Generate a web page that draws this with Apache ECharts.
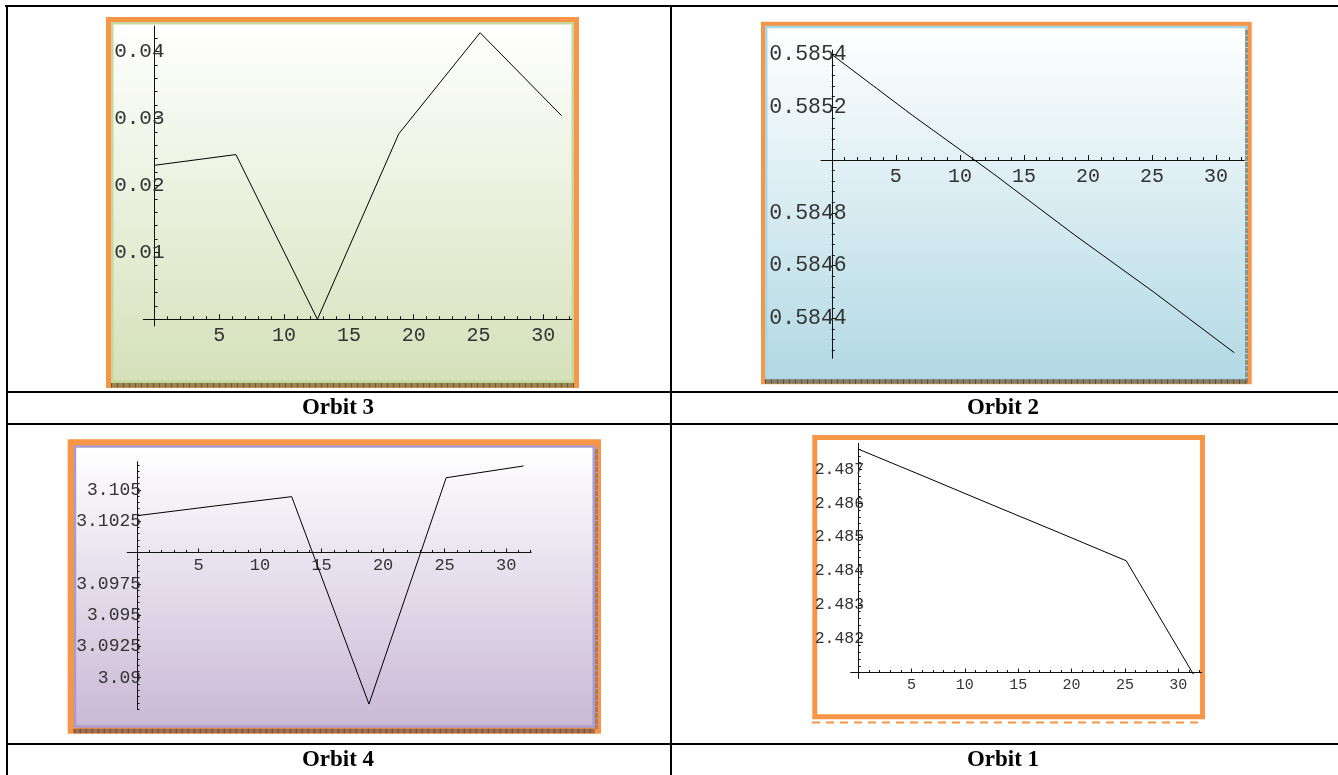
<!DOCTYPE html>
<html>
<head>
<meta charset="utf-8">
<title>Orbits</title>
<script src="https://cdn.jsdelivr.net/npm/echarts@6/dist/echarts.min.js"></script>
<style>
  html, body { margin: 0; padding: 0; background: #fff; }
  #chart { width: 1338px; height: 775px; }
</style>
</head>
<body>
<div id="chart"></div>
<script>
// samples are taken at multiples of 2*pi
const orbitX = [0, 6.28, 12.57, 18.85, 25.13, 31.42]

const orbit3Y = [0.0230, 0.0246, 0.0000, 0.0277, 0.0428, 0.0304]
const orbit2Y = [0.58540, 0.58517, 0.58495, 0.58472, 0.58450, 0.58427]
const orbit4Y = [3.10294, 3.10371, 3.10446, 3.08790, 3.10597, 3.10691]
const orbit1Y = [2.48760, 2.48678, 2.48595, 2.48513, 2.48430, 2.48095]

const xTicks = [5, 10, 15, 20, 25, 30]
const orbit3Ticks = [0.01, 0.02, 0.03, 0.04]
const orbit2Ticks = [0.5844, 0.5846, 0.5848, 0.5852, 0.5854]
const orbit4Ticks = [3.09, 3.0925, 3.095, 3.0975, 3.1025, 3.105]
const orbit1Ticks = [2.482, 2.483, 2.484, 2.485, 2.486, 2.487]

const captions = ['Orbit 3', 'Orbit 2', 'Orbit 4', 'Orbit 1']

const ORANGE = '#f79646'
const MONO = '"Liberation Mono", "DejaVu Sans Mono", monospace'

// base = value where the x axis crosses the y axis (Mathematica style)
const panels = [
  { y: orbit3Y, ticks: orbit3Ticks, base: 0, minorStep: 0.002,
    grid: [143.3, 26, 428.4, 300], xRange: [-0.87, 32.2], yRange: [-0.001, 0.0438],
    font: [20, 21], margin: [6, -10], tick: [5, 3] },
  { y: orbit2Y, ticks: orbit2Ticks, base: 0.585, minorStep: 0.00004,
    grid: [821, 50, 423.3, 308.3], xRange: [-0.84, 32.2], yRange: [0.584249, 0.585417],
    font: [20, 21.5], margin: [7, -15], tick: [5, 3] },
  { y: orbit4Y, ticks: orbit4Ticks, base: 3.1, minorStep: 0.0005,
    grid: [127.2, 461.7, 403.9, 247.6], xRange: [-0.8, 32.03], yRange: [3.08748, 3.10725],
    font: [17, 18], margin: [5, -4], tick: [4, 2.5] },
  { y: orbit1Y, ticks: orbit1Ticks, base: 2.481, minorStep: 0.0002,
    grid: [850.7, 443.3, 351, 235], xRange: [-0.7, 32.2], yRange: [2.48083, 2.48777],
    font: [15, 16.5], margin: [5, -6], tick: [4, 2.5] }
]

const frames = [
  { box: [106, 17, 473, 371], edge: 5, inner: '#c2d89e', top: '#ffffff', bottom: '#d5e1ba', strip: '#9c8452', shade: null },
  { box: [761, 21.7, 490.7, 362.6], edge: 4, inner: '#a7d7e7', top: '#ffffff', bottom: '#b2d9e4', strip: '#857d66', shade: [1245, 29, 3, 352] },
  { box: [67.7, 439.3, 533.3, 294.5], edge: 6, inner: '#a99ccd', top: '#ffffff', bottom: '#c9b9d6', strip: '#a06d55', shade: [595, 448, 3, 281] }
]

function rel(v, base) {
  return +(v - base).toFixed(7)
}

function minorValues(lo, hi, step) {
  const out = []
  for (let k = Math.ceil(lo / step); k * step <= hi; k++) out.push(+(k * step).toFixed(7))
  return out
}

const grids = []
const xAxes = []
const yAxes = []
const series = []

panels.forEach(function(p, i) {
  grids.push({
    left: p.grid[0], top: p.grid[1], width: p.grid[2], height: p.grid[3],
    containLabel: false, outerBoundsMode: 'none', show: false
  })
  const lo = rel(p.yRange[0], p.base)
  const hi = rel(p.yRange[1], p.base)
  // axes cross at (0, base): shift them in from the grid edges
  const xOffset = -(0 - lo) / (hi - lo) * p.grid[3]
  const yOffset = -(0 - p.xRange[0]) / (p.xRange[1] - p.xRange[0]) * p.grid[2]
  const lineStyle = { color: '#111', width: 1 }
  const hidden = { color: '#111', opacity: 0 }
  const yMajor = p.ticks.map(function(t) { return rel(t, p.base) })

  xAxes.push({
    gridIndex: i, type: 'value', position: 'bottom', offset: xOffset, min: p.xRange[0], max: p.xRange[1], z: 5,
    axisLine: { show: true, onZero: false, lineStyle: lineStyle },
    axisTick: { show: true, inside: true, length: p.tick[0], customValues: xTicks, lineStyle: lineStyle },
    axisLabel: { show: true, customValues: xTicks, margin: p.margin[0], fontFamily: MONO, fontSize: p.font[0], color: '#333' },
    splitLine: { show: false }
  })
  xAxes.push({
    gridIndex: i, type: 'value', position: 'bottom', offset: xOffset, min: p.xRange[0], max: p.xRange[1], z: 5,
    axisLine: { show: true, onZero: false, lineStyle: hidden },
    axisTick: { show: true, inside: true, length: p.tick[1], customValues: minorValues(1, p.xRange[1], 1), lineStyle: lineStyle },
    axisLabel: { show: false },
    splitLine: { show: false }
  })
  yAxes.push({
    gridIndex: i, type: 'value', position: 'left', offset: yOffset, min: lo, max: hi, z: 5,
    axisLine: { show: true, onZero: false, lineStyle: lineStyle },
    axisTick: { show: true, inside: true, length: p.tick[0], customValues: yMajor, lineStyle: lineStyle },
    axisLabel: {
      show: true, customValues: yMajor,
      margin: p.margin[1], fontFamily: MONO, fontSize: p.font[1], color: '#333',
      formatter: function(v) { return String(parseFloat((v + p.base).toFixed(5))) }
    },
    splitLine: { show: false }
  })
  yAxes.push({
    gridIndex: i, type: 'value', position: 'left', offset: yOffset, min: lo, max: hi, z: 5,
    axisLine: { show: true, onZero: false, lineStyle: hidden },
    axisTick: { show: true, inside: true, length: p.tick[1], customValues: minorValues(lo, hi, p.minorStep), lineStyle: lineStyle },
    axisLabel: { show: false },
    splitLine: { show: false }
  })
  series.push({
    type: 'line', xAxisIndex: i * 2, yAxisIndex: i * 2, z: 6,
    showSymbol: false, symbol: 'none', silent: true,
    lineStyle: { color: '#000', width: 1 },
    data: orbitX.map(function(x, k) { return [x, rel(p.y[k], p.base)] })
  })
})

const graphics = []

frames.forEach(function(f) {
  const [x, y, w, h] = f.box
  const e = f.edge
  graphics.push({ type: 'rect', z: 1, shape: { x: x, y: y, width: w, height: h }, style: { fill: ORANGE } })
  graphics.push({ type: 'rect', z: 1, shape: { x: x + e, y: y + e, width: w - 2 * e, height: h - 2 * e }, style: { fill: f.inner } })
  graphics.push({
    type: 'rect', z: 1,
    shape: { x: x + e + 2.5, y: y + e + 2.5, width: w - 2 * e - 5, height: h - 2 * e - 5 },
    style: { fill: new echarts.graphic.LinearGradient(0, 0, 0, 1, [
      { offset: 0, color: f.top }, { offset: 1, color: f.bottom }
    ]) }
  })
  graphics.push({ type: 'rect', z: 2, shape: { x: x + e, y: y + h - 5, width: w - 2 * e, height: 4.5 }, style: { fill: f.strip } })
  graphics.push({
    type: 'line', z: 2,
    shape: { x1: x + e, y1: y + h - 2.8, x2: x + w - e, y2: y + h - 2.8 },
    style: { stroke: 'rgba(60,40,20,0.55)', lineWidth: 4.5, lineDash: [1, 5] }
  })
  if (f.shade) {
    graphics.push({ type: 'rect', z: 2, shape: { x: f.shade[0], y: f.shade[1], width: f.shade[2], height: f.shade[3] }, style: { fill: f.strip, opacity: 0.75 } })
    graphics.push({
      type: 'line', z: 2,
      shape: { x1: f.shade[0] + 1.5, y1: f.shade[1], x2: f.shade[0] + 1.5, y2: f.shade[1] + f.shade[3] },
      style: { stroke: f.inner, lineWidth: 3, lineDash: [1, 5] }
    })
  }
})

// Orbit 1 panel: plain white with orange frame and dashed underline
graphics.push({ type: 'rect', z: 1, shape: { x: 814.8, y: 437.5, width: 387.7, height: 279.3 }, style: { fill: '#fff', stroke: ORANGE, lineWidth: 5 } })
graphics.push({ type: 'line', z: 1, shape: { x1: 812, y1: 722.5, x2: 1201, y2: 722.5 }, style: { stroke: ORANGE, lineWidth: 2, lineDash: [8, 6] } })

// table rules
const rules = [
  [5, 5, 1333, 2], [6, 5, 2, 775], [670, 5, 2, 775],
  [6, 391, 1332, 2], [6, 423, 1332, 2], [6, 743, 1332, 2]
]
rules.forEach(function(r) {
  graphics.push({ type: 'rect', z: 20, shape: { x: r[0], y: r[1], width: r[2], height: r[3] }, style: { fill: '#000' } })
})

const captionPos = [[338, 408], [1003, 408], [338, 760], [1003, 760]]
captions.forEach(function(c, i) {
  graphics.push({
    type: 'text', z: 20, x: captionPos[i][0], y: captionPos[i][1],
    style: {
      text: c, fill: '#000', font: 'bold 23px "Liberation Serif", "Times New Roman", serif',
      align: 'center', verticalAlign: 'middle', textAlign: 'center', textVerticalAlign: 'middle'
    }
  })
})

const chart = echarts.init(document.getElementById('chart'))
chart.setOption({
  animation: false,
  backgroundColor: '#fff',
  grid: grids,
  xAxis: xAxes,
  yAxis: yAxes,
  series: series,
  graphic: { elements: graphics }
})
</script>
</body>
</html>
